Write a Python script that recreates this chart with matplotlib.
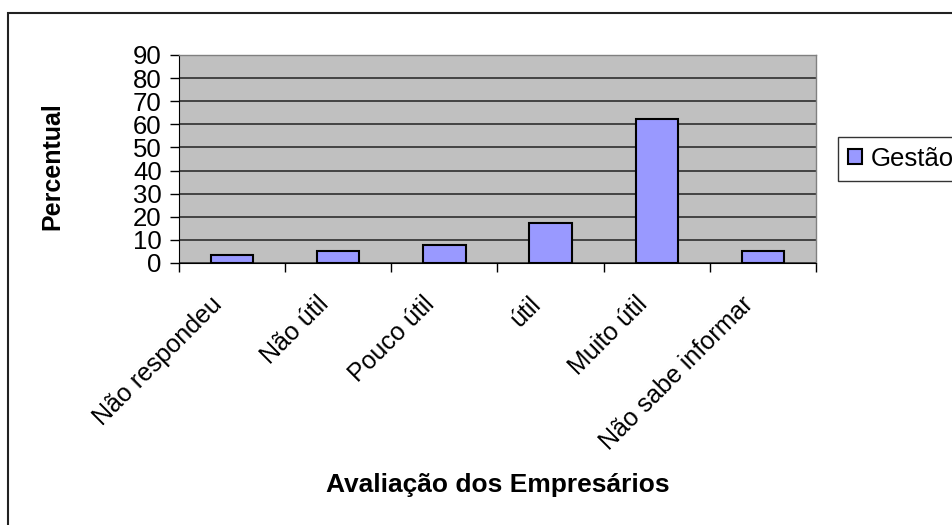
import matplotlib
matplotlib.use("Agg")
import matplotlib.pyplot as plt
from matplotlib.patches import Rectangle
from matplotlib.transforms import ScaledTranslation

categories = ["Não respondeu", "Não útil", "Pouco útil", "útil", "Muito útil", "Não sabe informar"]
values = [3.5, 5.2, 7.8, 17.2, 62.2, 5.2]
series_name = "Gestão"
yticks = [0, 10, 20, 30, 40, 50, 60, 70, 80, 90]

plt.rcParams['font.family'] = ['Liberation Sans', 'DejaVu Sans']

W, H = 953, 525
fig = plt.figure(figsize=(W / 100, H / 100), dpi=100)
ax = fig.add_axes([179 / W, 1 - 263 / H, (816 - 179) / W, (263 - 55) / H])

ax.set_facecolor('#c0c0c0')
xs = [i + 0.5 for i in range(len(categories))]
ax.bar(xs, values, width=0.4, color='#9999ff', edgecolor='black', linewidth=1.5,
       label=series_name, zorder=3)

ax.set_xlim(0, len(categories))
ax.set_ylim(0, 90)
ax.set_yticks(yticks)
ax.set_yticklabels([str(v) for v in yticks], fontsize=18.5)
ax.yaxis.grid(True, color='#222222', linewidth=1.1, zorder=1)
ax.set_axisbelow(True)

ax.set_xticks(range(len(categories) + 1))
ax.set_xticklabels([''] * (len(categories) + 1))
ax.tick_params(axis='x', which='major', length=6.5, width=1, direction='out')
ax.tick_params(axis='y', length=6.5, width=1, direction='out', pad=6)

lab_tr = ax.get_xaxis_transform() + ScaledTranslation(-0.22, -0.29, fig.dpi_scale_trans)
for x, c in zip(xs, categories):
    ax.text(x, 0, c, transform=lab_tr, rotation=45, ha='right', va='top',
            rotation_mode='anchor', fontsize=18)

for s in ['top', 'right']:
    ax.spines[s].set_color('#808080')
    ax.spines[s].set_linewidth(1)
ax.spines['left'].set_color('black')
ax.spines['bottom'].set_color('black')

fig.text(52 / W, 1 - 166 / H, 'Percentual', rotation=90, fontsize=18,
         fontweight='bold', ha='center', va='center')
fig.text(498 / W, 1 - 485 / H, 'Avaliação dos Empresários', fontsize=19,
         fontweight='bold', ha='center', va='center')

leg = fig.legend(loc='upper left', bbox_to_anchor=(838 / W, 1 - 137 / H),
                 fontsize=18.5, frameon=True, fancybox=False, shadow=False,
                 borderpad=0.38, handlelength=0.55, handleheight=0.55,
                 handletextpad=0.35, borderaxespad=0)
leg.get_frame().set_edgecolor('black')
leg.get_frame().set_linewidth(1)

fig.patches.append(Rectangle((8 / W, -0.1), 1.2, 1.1 - 13 / H, transform=fig.transFigure,
                             fill=False, edgecolor='#222222', linewidth=1.5))

fig.savefig('out.png', dpi=100)
